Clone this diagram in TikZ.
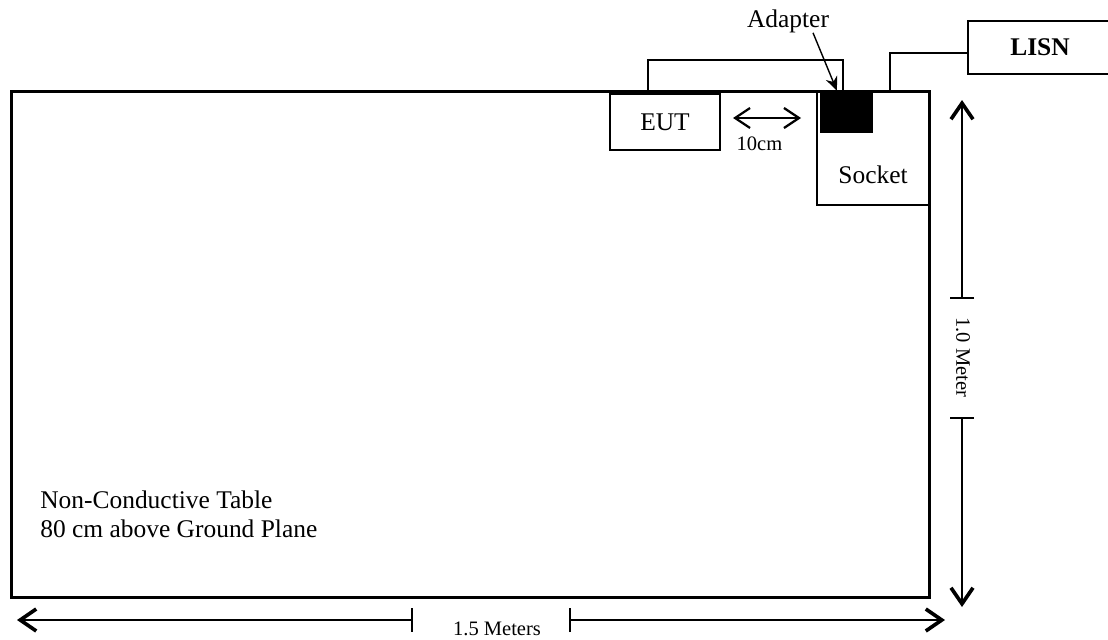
\documentclass[tikz,border=0pt]{standalone}
\usepackage{fontspec}
\setmainfont{Liberation Serif}
\usepackage{tikz}
\usetikzlibrary{arrows.meta,positioning,calc}

\begin{document}
\begin{tikzpicture}[x=0.025cm,y=-0.025cm,
  bigtxt/.style={font=\fontsize{18.1}{20.6}\selectfont},
  smalltxt/.style={font=\fontsize{14.6}{17}\selectfont},
  box/.style={draw,line width=1.4pt,inner sep=0pt},
  cable/.style={line width=1.1pt},
  dimline/.style={line width=1.1pt,arrows={Bar[width=0.6cm]-Straight Barb[length=0.4cm,width=0.55cm,line width=2.6pt]}}]
\useasboundingbox (0,0) rectangle (1108,639);
% table
\node[draw,line width=2.1pt,minimum width=22.95cm,minimum height=12.625cm] (table) at (470.5,344.5) {};
\node[bigtxt,align=left,anchor=north west,inner sep=0pt] (tabletxt) at (40,491) {Non-Conductive Table\\80 cm above Ground Plane};
% boxes on the table
\node[box,bigtxt,minimum width=2.75cm,minimum height=1.4cm] (eut) at (665,122) {EUT};
\node[box,minimum width=2.8cm,minimum height=2.85cm] (socket) at (873,148) {};
\node[bigtxt,anchor=south,inner sep=0pt] (sockettxt) at ([yshift=0.55cm]socket.south) {Socket};
\node[fill=black,minimum width=1.325cm,minimum height=1.05cm,inner sep=0pt] (adapter) at (846.5,112) {};
\node[bigtxt,inner sep=0pt] (adaptertxt) at (788,21) {Adapter};
\node[draw,line width=1.7pt,bigtxt,minimum width=3.6cm,minimum height=1.325cm] (lisn) at (1040,47.5) {\bfseries LISN};
% cables
\draw[cable] ([xshift=-0.425cm]eut.north) -- ++(0,-33) -| ([xshift=-0.09cm]adapter.north);
\draw[line width=1.7pt] ([xshift=0.425cm]socket.north) |- ([yshift=-0.14cm]lisn.west);
\draw[line width=1pt,-{Stealth[length=0.35cm,width=0.3cm]}] ([xshift=0.625cm]adaptertxt.south) -- ([xshift=-0.24cm]adapter.north);
% 10cm gap
\draw[line width=1pt,arrows={Straight Barb[length=0.375cm,width=0.5cm,line width=1.6pt]-Straight Barb[length=0.375cm,width=0.5cm,line width=1.6pt]}] ([shift={(12,-4)}]eut.east) -- ([shift={(-15,-30)}]socket.west) node[smalltxt,midway,below=0.33cm,xshift=-0.19cm] (gaptxt) {10cm};
% 1.0 Meter
\coordinate (vtop) at (962,100);
\coordinate (vbot) at (962,607);
\coordinate (vtick1) at (962,299);
\coordinate (vtick2) at (962,417);
\node[smalltxt,rotate=-90] (vtxt) at (963,357.5) {1.0 Meter};
\draw[dimline] (vtick1) -- (vtop);
\draw[dimline] (vtick2) -- (vbot);
% 1.5 Meters
\coordinate (hleft) at (17,620);
\coordinate (hright) at (945,620);
\coordinate (htick1) at (413,620);
\coordinate (htick2) at (569,620);
\node[smalltxt] (htxt) at (497,629) {1.5 Meters};
\draw[dimline] (htick1) -- (hleft);
\draw[dimline] (htick2) -- (hright);
\end{tikzpicture}
\end{document}
